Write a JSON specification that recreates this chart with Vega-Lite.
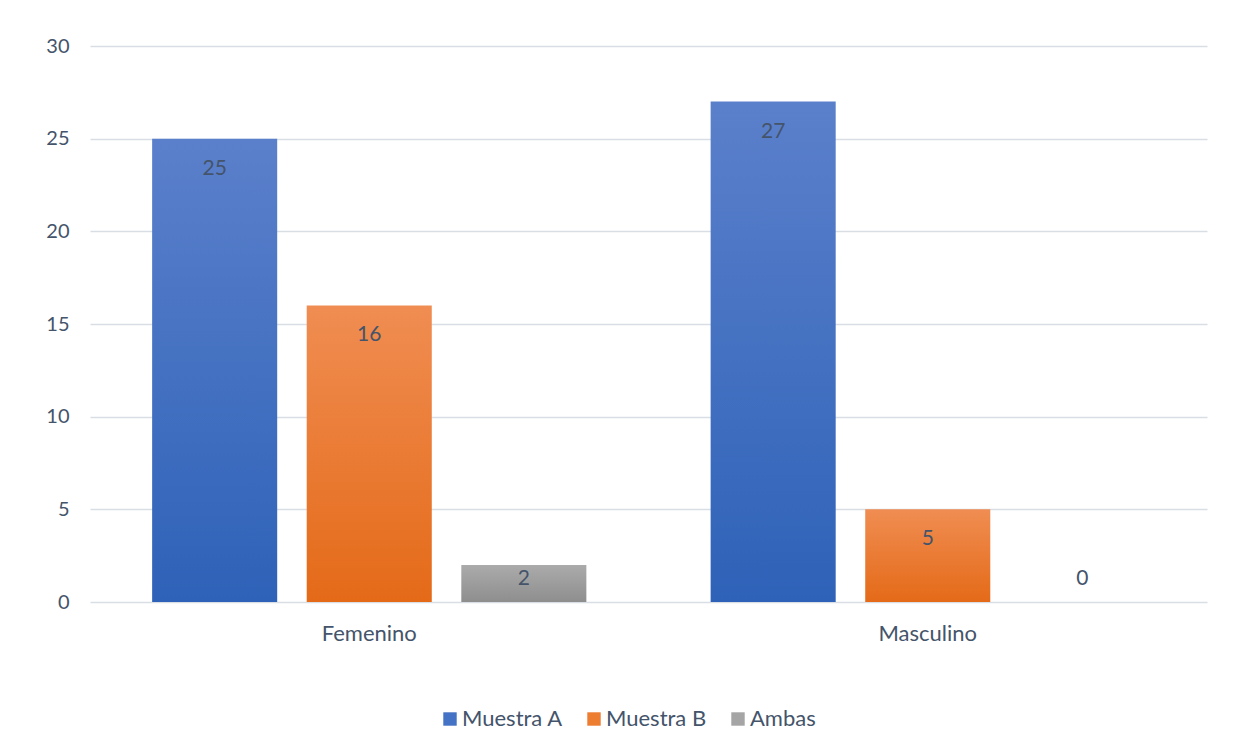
{
  "$schema": "https://vega.github.io/schema/vega-lite/v6.json",
  "width": 1117,
  "height": 556,
  "autosize": {"type": "none"},
  "padding": {"left": 90, "top": 46, "right": 29, "bottom": 152},
  "background": "white",
  "config": {
    "view": {"stroke": null},
    "font": "Lato",
    "axis": {"labelFont": "Lato", "labelFontSize": 20, "labelColor": "#44546a", "domain": false, "ticks": false, "title": null},
    "legend": {"labelFont": "Lato", "labelFontSize": 22, "labelColor": "#44546a"}
  },
  "data": {
    "values": [
      {"sexo": "Femenino", "serie": "Muestra A", "valor": 25},
      {"sexo": "Femenino", "serie": "Muestra B", "valor": 16},
      {"sexo": "Femenino", "serie": "Ambas", "valor": 2},
      {"sexo": "Masculino", "serie": "Muestra A", "valor": 27},
      {"sexo": "Masculino", "serie": "Muestra B", "valor": 5},
      {"sexo": "Masculino", "serie": "Ambas", "valor": 0}
    ]
  },
  "encoding": {
    "x": {
      "field": "sexo", "type": "nominal", "sort": ["Femenino", "Masculino"],
      "scale": {"paddingInner": 0.2225, "paddingOuter": 0.11125},
      "axis": {"labelAngle": 0, "labelPadding": 21, "labelFontSize": 22, "grid": false}
    },
    "xOffset": {
      "field": "serie", "type": "nominal", "sort": ["Muestra A", "Muestra B", "Ambas"],
      "scale": {"paddingInner": 0.191, "paddingOuter": 0}
    },
    "y": {
      "field": "valor", "type": "quantitative",
      "scale": {"domain": [0, 30]},
      "axis": {"values": [0, 5, 10, 15, 20, 25, 30], "labelPadding": 21, "grid": true, "gridColor": "#d9dee4", "gridWidth": 1.5}
    }
  },
  "layer": [
    {
      "mark": {"type": "bar"},
      "encoding": {
        "color": {
          "field": "serie", "type": "nominal",
          "scale": {"domain": ["Muestra A", "Muestra B", "Ambas"], "range": ["#4472c4", "#ed7d31", "#a5a5a5"]},
          "legend": {
            "title": null, "orient": "none", "direction": "horizontal",
            "legendX": 349, "legendY": 662,
            "symbolType": "square", "symbolSize": 180, "symbolStrokeWidth": 0,
            "columnPadding": 20, "labelOffset": 1
          },
          "condition": [
            {"test": "datum.serie === 'Muestra A'", "value": {"gradient": "linear", "x1": 0, "y1": 0, "x2": 0, "y2": 1, "stops": [{"offset": 0, "color": "#5b80cb"}, {"offset": 1, "color": "#2e62b8"}]}},
            {"test": "datum.serie === 'Muestra B'", "value": {"gradient": "linear", "x1": 0, "y1": 0, "x2": 0, "y2": 1, "stops": [{"offset": 0, "color": "#f08d52"}, {"offset": 1, "color": "#e46a18"}]}},
            {"test": "datum.serie === 'Ambas'", "value": {"gradient": "linear", "x1": 0, "y1": 0, "x2": 0, "y2": 1, "stops": [{"offset": 0, "color": "#ababab"}, {"offset": 1, "color": "#8e8e8e"}]}}
          ]
        }
      }
    },
    {
      "mark": {
        "type": "text", "baseline": "middle", "align": "center",
        "fontSize": 21, "font": "Lato", "color": "#44546a",
        "dy": {"expr": "datum.valor == 0 ? -23 : (datum.valor == 2 ? 14 : 30)"}
      },
      "encoding": {
        "text": {"field": "valor", "type": "quantitative"}
      }
    }
  ]
}
